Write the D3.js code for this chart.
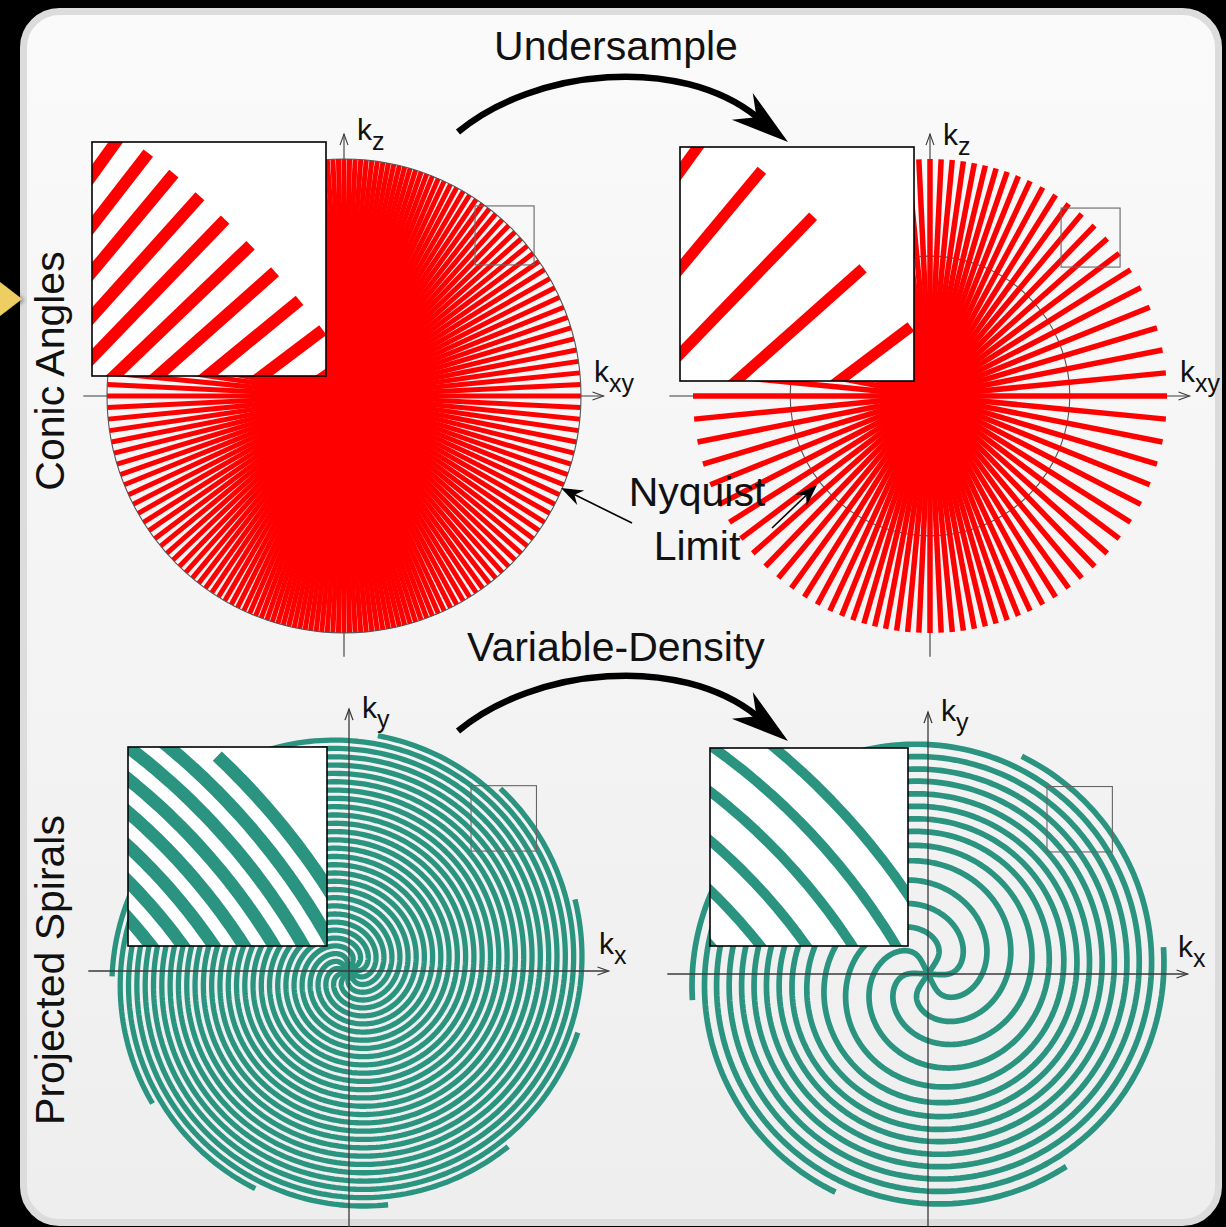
<!DOCTYPE html>
<html><head><meta charset="utf-8">
<script src="https://cdn.jsdelivr.net/npm/d3@7"></script>
<style>html,body{margin:0;padding:0;background:#000;} svg{display:block;}</style>
</head><body>
<svg id="fig" width="1226" height="1227"></svg>
<script>
// ---------------- data ----------------
// spoke polar angles of the first quadrant, degrees (mirrored into the other quadrants)
const fullSpokeAngles = [0, 2.8, 5.6, 8.4, 11.2, 13.95, 16.7, 19.35, 22.0, 24.6, 27.2, 29.7, 32.2, 34.6, 37.0,
  39.3, 41.6, 43.8, 46.0, 48.1, 50.2, 52.2, 54.2, 56.1, 58.0, 59.8, 61.6, 63.3, 65.0, 66.55, 68.1, 69.55,
  71.0, 72.4, 73.8, 75.15, 76.5, 77.85, 79.2, 80.55, 81.9, 83.25, 84.6, 85.95, 87.3, 88.65, 90];
const underSpokeAngles = [0, 5.6, 11.2, 16.7, 22.0, 27.2, 32.2, 37.0, 41.6, 46.0, 50.2, 54.2, 58.0, 61.6,
  65.0, 68.1, 71.0, 73.8, 76.5, 79.2, 81.9, 84.6, 87.3, 90.0];
// outer end angle of each spiral interleave, degrees (counter-clockwise from +kx)
const fullArmEndAngles = [83.0, 50.3, 17.6, -15.1, -47.8, -80.5, -113.3, -146.0, -178.7, 148.5, 115.8];
const vdArmEndAngles = [66.7, 6.5, -54.3, -113.0, -173.7, 126.7];
// radial spacing between neighbouring spiral turns (fraction of kmax) at given radii
const fullSpacingRadii = [0, 1];
const fullSpacing = [0.0352, 0.0352];
const vdSpacingRadii = [0, 0.38, 0.46, 0.55, 0.63, 1];
const vdSpacing = [0.106, 0.102, 0.076, 0.061, 0.053, 0.052];
const nyquistRadius = [1.0, 0.59];
const rowTitles = ["Conic Angles", "Projected Spirals"];
const arrowTitles = ["Undersample", "Variable-Density"];
const calloutLines = ["Nyquist", "Limit"];
const axisSubs = [["z", "xy"], ["z", "xy"], ["y", "x"], ["y", "x"]];

// ---------------- layout ----------------
const R = 237;
const FONT = "'Liberation Sans', Arial, Helvetica, sans-serif";
const panels = [
  {cx: 344, cy: 396, inset: [92, 142, 234], box: [0.553, 0.553, 0.249]},
  {cx: 930, cy: 396, inset: [680, 147, 234], box: [0.553, 0.544, 0.249]},
  {cx: 349, cy: 971, inset: [128, 747, 199], box: [0.515, 0.506, 0.276]},
  {cx: 928, cy: 974, inset: [710, 748, 198], box: [0.502, 0.515, 0.276]}
];
const RED = "#ff0000", TEAL = "#2a9480";
const rad = Math.PI / 180;

const svg = d3.select("#fig");
const defs = svg.append("defs");
const grad = defs.append("linearGradient").attr("id", "pg").attr("x1", 0).attr("y1", 0).attr("x2", 0).attr("y2", 1);
grad.append("stop").attr("offset", "0%").attr("stop-color", "#fafafa");
grad.append("stop").attr("offset", "100%").attr("stop-color", "#eeeeee");
const shadow = defs.append("filter").attr("id", "sh").attr("x", "-50%").attr("y", "-50%").attr("width", "200%").attr("height", "200%");
shadow.append("feDropShadow").attr("dx", 2).attr("dy", 1).attr("stdDeviation", 2).attr("flood-color", "#000").attr("flood-opacity", 0.5);

svg.append("rect").attr("width", 1226).attr("height", 1227).attr("fill", "#000");
svg.append("rect").attr("x", 23.5).attr("y", 11.5).attr("width", 1195).attr("height", 1211).attr("rx", 36).attr("ry", 36)
  .attr("fill", "url(#pg)").attr("stroke", "#dcdcdc").attr("stroke-width", 7);
svg.append("polygon").attr("points", "0,282 22,299 0,316").attr("fill", "#eecd62").attr("filter", "url(#sh)");

function mainScales(p) {
  return {x: d3.scaleLinear().domain([-1, 1]).range([p.cx - R, p.cx + R]),
          y: d3.scaleLinear().domain([-1, 1]).range([p.cy + R, p.cy - R])};
}
function insetScales(p) {
  const [ix, iy, is] = p.inset, [bx, by, bs] = p.box;
  return {x: d3.scaleLinear().domain([bx, bx + bs]).range([ix, ix + is]),
          y: d3.scaleLinear().domain([by, by + bs]).range([iy + is, iy])};
}
function mirror(q) {
  const s = new Set();
  q.forEach(a => [a, 180 - a, 180 + a, 360 - a].forEach(b => s.add(+(((b % 360) + 360) % 360).toFixed(3))));
  return Array.from(s).sort((a, b) => a - b);
}
function drawAxes(g, sc, onTop) {
  const c = "#3a3a3a";
  const x0 = sc.x(-1.1), x1 = sc.x(1.095), y0 = sc.y(-1.1), y1 = sc.y(1.105), ox = sc.x(0), oy = sc.y(0);
  const ax = g.append("g").attr("stroke", c).attr("stroke-width", onTop ? 1.3 : 1.1).attr("fill", "none");
  ax.append("line").attr("x1", x0).attr("y1", oy).attr("x2", x1).attr("y2", oy);
  ax.append("line").attr("x1", ox).attr("y1", y0).attr("x2", ox).attr("y2", y1);
  ax.append("path").attr("d", `M${x1 - 11},${oy - 4}L${x1},${oy}L${x1 - 11},${oy + 4}`);
  ax.append("path").attr("d", `M${ox - 4},${y1 + 11}L${ox},${y1}L${ox + 4},${y1 + 11}`);
}
function axisLabels(p, subs, vOff, hOff) {
  const mk = (x, y, sub) => {
    const t = svg.append("text").attr("x", x).attr("y", y).attr("font-family", FONT).attr("fill", "#111");
    t.append("tspan").attr("font-size", 30).text("k");
    t.append("tspan").attr("font-size", 25).attr("dy", 10).text(sub);
  };
  mk(p.cx + 13, p.cy - vOff, subs[0]);
  mk(p.cx + 250, p.cy - hOff, subs[1]);
}
function insetFrame(p, idx, drawContent) {
  const [ix, iy, is] = p.inset;
  defs.append("clipPath").attr("id", "clip" + idx).append("rect").attr("x", ix).attr("y", iy).attr("width", is).attr("height", is);
  svg.append("rect").attr("x", ix).attr("y", iy).attr("width", is).attr("height", is).attr("fill", "#fff");
  const g = svg.append("g").attr("clip-path", `url(#clip${idx})`);
  drawContent(g, insetScales(p));
  svg.append("rect").attr("x", ix).attr("y", iy).attr("width", is).attr("height", is).attr("fill", "none")
    .attr("stroke", "#000").attr("stroke-width", 1.6);
}
function smallBox(p, sc) {
  const [bx, by, bs] = p.box;
  svg.append("rect").attr("x", sc.x(bx)).attr("y", sc.y(by + bs)).attr("width", sc.x(bx + bs) - sc.x(bx))
    .attr("height", sc.y(by) - sc.y(by + bs)).attr("fill", "none").attr("stroke", "#666").attr("stroke-width", 1.1);
}

// ---------------- conic panels ----------------
function drawSpokes(g, sc, angles, w) {
  g.selectAll("line.sp").data(angles).join("line").attr("class", "sp")
    .attr("x1", sc.x(0)).attr("y1", sc.y(0))
    .attr("x2", a => sc.x(Math.cos(a * rad))).attr("y2", a => sc.y(Math.sin(a * rad)))
    .attr("stroke", RED).attr("stroke-width", w).attr("stroke-linecap", "butt");
}
function conicPanel(idx, quadAngles, nyq, w, wIn, circleOnTop) {
  const p = panels[idx], sc = mainScales(p);
  const angles = mirror(quadAngles);
  const g = svg.append("g");
  drawAxes(g, sc, false);
  const circ = () => g.append("circle").attr("cx", sc.x(0)).attr("cy", sc.y(0)).attr("r", sc.x(nyq) - sc.x(0))
    .attr("fill", "none").attr("stroke", "#555").attr("stroke-width", 1.1);
  if (!circleOnTop) circ();
  drawSpokes(g, sc, angles, w);
  if (circleOnTop) circ();
  smallBox(p, sc);
  insetFrame(p, idx, (gi, si) => drawSpokes(gi, si, angles, wIn));
  axisLabels(p, axisSubs[idx], idx === 0 ? 256 : 251, 14);
}
conicPanel(0, fullSpokeAngles, nyquistRadius[0], 5.0, 12, true);
conicPanel(1, underSpokeAngles, nyquistRadius[1], 5.5, 11, false);

// ---------------- spiral panels ----------------
function spiralArms(endAngles, radii, spacing, rb) {
  const N = endAngles.length;
  const sScale = d3.scaleLinear().domain(radii).range(spacing);
  const n = 700, prof = [];
  let phi = 0;
  for (let i = 0; i <= n; i++) {
    const r = i / n;
    prof.push([r, phi]);
    const rm = (i + 0.5) / n, w = Math.pow(rm, 4) / (Math.pow(rm, 4) + Math.pow(rb, 4));
    phi += w * 2 * Math.PI / (N * sScale(rm)) / n;
  }
  const G = prof[n][1];
  return endAngles.map(e => prof.map(([r, ph]) => {
    const th = e * rad - (G - ph);
    return [r * Math.cos(th), r * Math.sin(th)];
  }));
}
function drawArms(g, sc, arms, w) {
  const line = d3.line().x(d => sc.x(d[0])).y(d => sc.y(d[1]));
  g.selectAll("path.arm").data(arms).join("path").attr("class", "arm").attr("d", line)
    .attr("fill", "none").attr("stroke", TEAL).attr("stroke-width", w).attr("stroke-linecap", "butt")
    .attr("stroke-linejoin", "round");
}
function spiralPanel(idx, arms, w, wIn) {
  const p = panels[idx], sc = mainScales(p);
  const g = svg.append("g");
  drawArms(g, sc, arms, w);
  drawAxes(g, sc, true);
  smallBox(p, sc);
  insetFrame(p, idx, (gi, si) => drawArms(gi, si, arms, wIn));
  axisLabels(p, axisSubs[idx], 253, 17);
}
spiralPanel(2, spiralArms(fullArmEndAngles, fullSpacingRadii, fullSpacing, 0.06), 5.3, 13);
spiralPanel(3, spiralArms(vdArmEndAngles, vdSpacingRadii, vdSpacing, 0.11), 5.7, 10);

// ---------------- annotations ----------------
function headPoly(tip, ang, len, hw, notch) {
  const u = [Math.cos(ang), Math.sin(ang)], nn = [-u[1], u[0]];
  const b = [tip[0] - len * u[0], tip[1] - len * u[1]];
  const m = [tip[0] - notch * u[0], tip[1] - notch * u[1]];
  return [tip, [b[0] + hw * nn[0], b[1] + hw * nn[1]], m, [b[0] - hw * nn[0], b[1] - hw * nn[1]]].map(q => q.join(",")).join(" ");
}
[0, 599].forEach((dy, i) => {
  const g = svg.append("g").attr("transform", `translate(0,${dy})`);
  g.append("path").attr("d", "M458,132 C535,68 680,55 757,117").attr("fill", "none").attr("stroke", "#000").attr("stroke-width", 6.5);
  g.append("polygon").attr("points", headPoly([788, 142], 38 * rad, 58, 17, 40)).attr("fill", "#000");
  svg.append("text").attr("x", 616).attr("y", i === 0 ? 60 : 661).attr("text-anchor", "middle")
    .attr("font-family", FONT).attr("font-size", 41).attr("fill", "#111").text(arrowTitles[i]);
});
// Nyquist callout arrows
[[[632, 523], [561, 488]], [[772, 528], [817, 485]]].forEach(([a, b]) => {
  const ang = Math.atan2(b[1] - a[1], b[0] - a[0]);
  svg.append("line").attr("x1", a[0]).attr("y1", a[1]).attr("x2", b[0] - 12 * Math.cos(ang)).attr("y2", b[1] - 12 * Math.sin(ang))
    .attr("stroke", "#000").attr("stroke-width", 1.6);
  svg.append("polygon").attr("points", headPoly(b, ang, 22, 8, 15)).attr("fill", "#000");
});
calloutLines.forEach((t, i) => svg.append("text").attr("x", 697).attr("y", i === 0 ? 506 : 560).attr("text-anchor", "middle")
  .attr("font-family", FONT).attr("font-size", 41).attr("fill", "#111").text(t));
// row titles (vertical)
[[64, 371], [64, 970]].forEach(([x, y], i) => svg.append("text")
  .attr("transform", `translate(${x},${y}) rotate(-90)`).attr("text-anchor", "middle")
  .attr("font-family", FONT).attr("font-size", 41).attr("fill", "#111").text(rowTitles[i]));
</script>
</body></html>
